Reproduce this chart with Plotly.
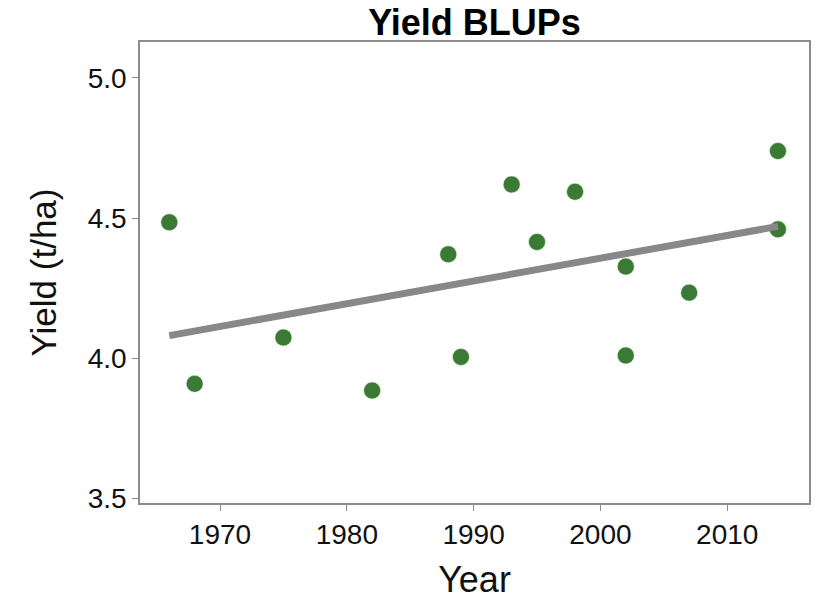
import numpy as np
import plotly.graph_objects as go

years = [1966, 1968, 1975, 1982, 1988, 1989, 1993, 1995, 1998, 2002, 2002, 2007, 2014, 2014]
yield_blup = [4.485, 3.909, 4.074, 3.885, 4.371, 4.005, 4.620, 4.415, 4.594, 4.327, 4.010, 4.234, 4.739, 4.460]
x_ticks = [1970, 1980, 1990, 2000, 2010]
y_ticks = [3.5, 4.0, 4.5, 5.0]
y_tick_labels = ["3.5", "4.0", "4.5", "5.0"]

slope, intercept = np.polyfit(years, yield_blup, 1)
fit_x = [min(years), max(years)]
fit_y = [slope * v + intercept for v in fit_x]

font = "Liberation Sans, Arial, sans-serif"

fig = go.Figure()
fig.add_trace(go.Scatter(
    x=years, y=yield_blup, mode="markers",
    marker=dict(size=17, color="#3b7a35", line=dict(width=0.6, color="#e8f0e6")),
    showlegend=False, hoverinfo="x+y",
))
fig.add_trace(go.Scatter(
    x=fit_x, y=fit_y, mode="lines",
    line=dict(color="#888888", width=7),
    showlegend=False, hoverinfo="skip",
))

axis_common = dict(
    showgrid=False, zeroline=False, showline=True, mirror=True,
    linecolor="#8c8c8c", linewidth=1.5,
    ticks="outside", ticklen=6, tickwidth=1.2, tickcolor="#8c8c8c",
    tickfont=dict(family=font, size=28, color="#111111"),
    automargin=False,
)

fig.update_layout(
    width=823, height=600,
    margin=dict(l=140, r=14, t=42, b=97),
    paper_bgcolor="white", plot_bgcolor="white",
    title=dict(text="<b>Yield BLUPs</b>", x=0.5, xanchor="center", xref="paper",
               y=0.963, yanchor="middle",
               font=dict(family=font, size=36, color="black")),
    xaxis=dict(range=[1963.69, 2016.45], tickvals=x_ticks,
               title=dict(text="Year", font=dict(family=font, size=36, color="#111111"), standoff=26),
               **axis_common),
    yaxis=dict(range=[3.484, 5.128], tickvals=y_ticks, ticktext=y_tick_labels,
               title=dict(text="Yield (t/ha)", font=dict(family=font, size=35, color="#111111"), standoff=20),
               **axis_common),
)

fig.write_html("out.html")
